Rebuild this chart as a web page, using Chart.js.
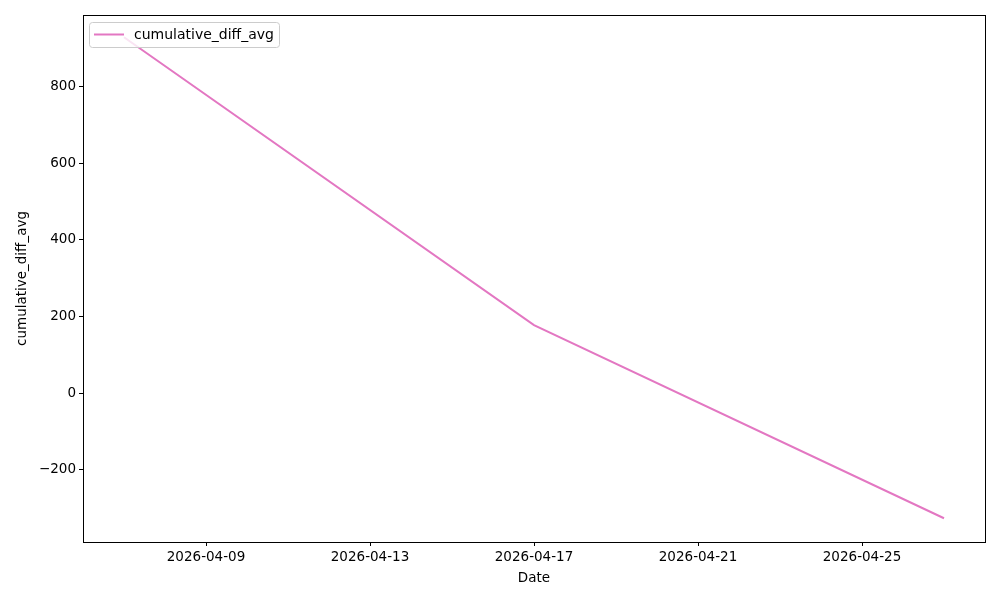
<!DOCTYPE html>
<html>
<head>
<meta charset="utf-8">
<script src="https://cdn.jsdelivr.net/npm/chart.js@4/dist/chart.umd.min.js"></script>
<style>
  html, body { margin: 0; padding: 0; background: #fff; }
  #wrap { width: 1000px; height: 600px; }
</style>
</head>
<body>
<div id="wrap"><canvas id="myChart" width="1000" height="600"></canvas></div>
<script>
// data (x = day of April 2026)
const dates = ['2026-04-07', '2026-04-17', '2026-04-27'];
const cumulativeDiffAvg = [929, 178, -326];
const xTickDays = [9, 13, 17, 21, 25];
const xTickLabels = ['2026-04-09', '2026-04-13', '2026-04-17', '2026-04-21', '2026-04-25'];
const yTicks = [-200, 0, 200, 400, 600, 800];

const seriesLabel = 'cumulative_diff_avg';
const lineColor = '#e377c2';
const fontFamily = '"DejaVu Sans", sans-serif';

const points = dates.map((d, i) => ({ x: parseInt(d.slice(8), 10), y: cumulativeDiffAvg[i] }));

// frame + matplotlib style legend
const framePlugin = {
    id: 'frame',
    afterDraw(chart) {
        const { ctx, chartArea: a } = chart;
        ctx.save();
        ctx.strokeStyle = '#000';
        ctx.lineWidth = 1;
        ctx.strokeRect(Math.round(a.left) + 0.5, Math.round(a.top) + 0.5,
            Math.round(a.right - a.left), Math.round(a.bottom - a.top));

        // legend box
        const bx = a.left + 6, by = a.top + 7, bw = 190, bh = 25, r = 3;
        ctx.beginPath();
        ctx.roundRect(bx + 0.5, by + 0.5, bw, bh, r);
        ctx.fillStyle = 'rgba(255,255,255,0.8)';
        ctx.fill();
        ctx.strokeStyle = '#cccccc';
        ctx.stroke();
        ctx.beginPath();
        ctx.moveTo(bx + 5, by + 12.5);
        ctx.lineTo(bx + 35, by + 12.5);
        ctx.strokeStyle = lineColor;
        ctx.lineWidth = 2;
        ctx.stroke();
        ctx.fillStyle = '#000';
        ctx.font = '14px ' + fontFamily;
        ctx.textBaseline = 'middle';
        ctx.fillText(seriesLabel, bx + 45, by + 13);
        ctx.restore();
    }
};

new Chart(document.getElementById('myChart').getContext('2d'), {
    type: 'line',
    data: {
        datasets: [{
            label: seriesLabel,
            data: points,
            borderColor: lineColor,
            borderWidth: 2,
            pointRadius: 0,
            fill: false,
            tension: 0
        }]
    },
    options: {
        responsive: false,
        animation: false,
        layout: { padding: { left: 0, right: 15, top: 15, bottom: 0 } },
        plugins: { legend: { display: false }, tooltip: { enabled: false } },
        scales: {
            x: {
                type: 'linear',
                min: 6,
                max: 28,
                afterBuildTicks: (axis) => { axis.ticks = xTickDays.map(v => ({ value: v })); },
                afterFit: (axis) => { axis.height = 58; },
                grid: { drawOnChartArea: false, tickLength: 4, color: '#000', tickWidth: 1 },
                border: { display: false },
                ticks: {
                    color: '#000',
                    padding: 3,
                    maxRotation: 0,
                    font: { family: fontFamily, size: 13.5 },
                    callback: (v) => xTickLabels[xTickDays.indexOf(v)]
                },
                title: {
                    display: true,
                    text: 'Date',
                    color: '#000',
                    font: { family: fontFamily, size: 13.5 },
                    padding: { top: 0, bottom: 13 }
                }
            },
            y: {
                min: -388,
                max: 987,
                afterBuildTicks: (axis) => { axis.ticks = yTicks.map(v => ({ value: v })); },
                afterFit: (axis) => { axis.width = 83; },
                grid: { drawOnChartArea: false, tickLength: 4, color: '#000', tickWidth: 1 },
                border: { display: false },
                ticks: {
                    color: '#000',
                    padding: 3,
                    font: { family: fontFamily, size: 13.5 },
                    callback: (v) => String(v).replace('-', '\u2212')
                },
                title: {
                    display: true,
                    text: seriesLabel,
                    color: '#000',
                    font: { family: fontFamily, size: 13.5 },
                    padding: { top: 14, bottom: 0 }
                }
            }
        }
    },
    plugins: [framePlugin]
});
</script>
</body>
</html>
